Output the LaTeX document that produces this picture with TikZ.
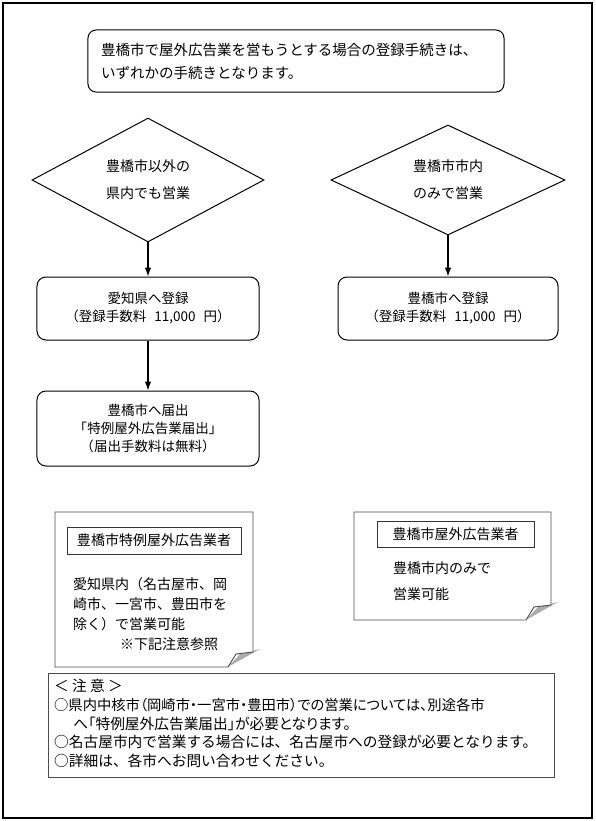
\documentclass[tikz,border=0pt]{standalone}
\usepackage{fontspec}
\newfontfamily\jpfont{Noto Sans CJK JP}
\newfontfamily\jppalt[RawFeature=+palt]{Noto Sans CJK JP}
\usetikzlibrary{shapes.geometric,calc,arrows.meta}
\tikzstyle{flowbox}=[rectangle, rounded corners=9bp, draw=black, line width=1bp, minimum width=222bp, align=center, inner sep=0pt, font=\jpfont\fontsize{13.5bp}{18bp}\selectfont]
\tikzstyle{choice}=[diamond, draw=black, line width=1bp, minimum width=232bp, minimum height=104bp, inner sep=0pt, align=center, font=\jpfont\fontsize{14bp}{27bp}\selectfont]
\tikzstyle{flowarrow}=[-{Latex[length=9bp,width=6.5bp]}, line width=1.1bp]
\tikzstyle{note}=[draw=black!70, line width=0.9bp, fill=white]
\tikzstyle{tag}=[rectangle, draw=black!80, line width=0.8bp, inner sep=0pt, font=\jpfont\fontsize{14bp}{18bp}\selectfont]
\tikzstyle{annot}=[align=left, anchor=north west, inner sep=0pt, font=\jpfont\fontsize{14bp}{20bp}\selectfont]
\newcommand{\foldnote}[5]
{
  \fill[gray!65] (#4-25,#5) -- (#4+7,#5-18) -- (#4-13,#5-13) -- cycle;
  \draw[note] (#2,#3) -- (#4,#3) -- (#4,#5-15) -- (#4-17,#5-13) -- (#4-25,#5) -- (#2,#5) -- cycle;
  \coordinate (#1) at (#2,#3);
}

\begin{document}
\begin{tikzpicture}[x=1bp, y=-1bp]
	\useasboundingbox (0,0) rectangle (596,821);
	\draw[line width=1.3bp] (3,3) rectangle (592,818);

	\node[flowbox, rounded corners=8bp, minimum width=416bp, minimum height=62bp](intro) at (296,61){};
	\node[annot, anchor=west, font=\jpfont\fontsize{14.5bp}{23bp}\selectfont](introtext) at (101,61.5){豊橋市で屋外広告業を営もうとする場合の登録手続きは、\\いずれかの手続きとなります。};

	\node[choice](askL) at (148,180){豊橋市以外の\\県内でも営業};
	\node[choice, minimum width=234bp](askR) at (448,180){豊橋市市内\\のみで営業};

	\node[flowbox, minimum height=63bp](regL) at (148,308.5){愛知県へ登録\\（登録手数料\hspace{0.6em}11,000\hspace{0.6em}円）};
	\node[flowbox, minimum width=220bp, minimum height=63bp](regR) at (448,308.5){豊橋市へ登録\\（登録手数料\hspace{0.6em}11,000\hspace{0.6em}円）};
	\node[flowbox, minimum height=75bp](notify) at (148,428.5){豊橋市へ届出\\「特例屋外広告業届出」\\（届出手数料は無料）};

	\draw[flowarrow] (askL.south) -- (regL.north);
	\draw[flowarrow] (askR.south) -- (regR.north);
	\draw[flowarrow] (regL.south) -- (notify.north);

	\foldnote{noteL}{55}{512}{253}{667}
	\node[tag, minimum width=174bp, minimum height=27bp](tagL) at (154,540.5){豊橋市特例屋外広告業者};
	\node[annot](textL) at (73,577){愛知県内（名古屋市、岡\\崎市、一宮市、豊田市を\\除く）で営業可能\\\hspace{47bp}※下記注意参照};

	\foldnote{noteR}{354}{512}{551}{620}
	\node[tag, minimum width=157bp, minimum height=26bp](tagR) at (455.5,534){豊橋市屋外広告業者};
	\node[annot, font=\jpfont\fontsize{14bp}{26bp}\selectfont](textR) at (393,561){豊橋市内のみで\\営業可能};

	\draw[draw=black!70, line width=0.9bp] (48,673) rectangle (554,777);
	\node[annot, font=\jpfont\fontsize{14.7bp}{18.8bp}\selectfont](caution) at (54,679){＜\ 注\ 意\ ＞\\{\jppalt\fontsize{14.3bp}{18.8bp}\selectfont ○県内中核市（岡崎市・一宮市・豊田市）での営業については、別途各市}\\\hspace{1.3em}{\jppalt へ「特例屋外広告業届出」が必要となります。}\\○名古屋市内で営業する場合には、名古屋市への登録が必要となります。\\○詳細は、各市へお問い合わせください。};
\end{tikzpicture}
\end{document}
